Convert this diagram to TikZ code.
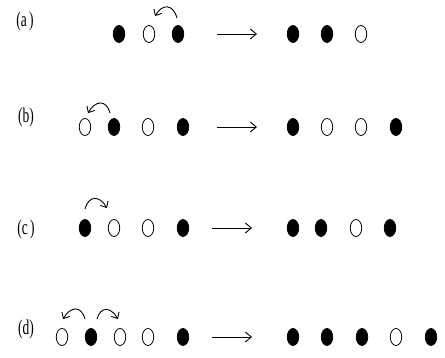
\documentclass[tikz,border=0pt]{standalone}
\usepackage{fontspec}
\setmainfont{Liberation Serif}
\usetikzlibrary{shapes.geometric,arrows.meta}
\begin{document}
\begin{tikzpicture}[x=1pt,y=1pt,
 dot/.style={ellipse,draw,line width=0.8pt,minimum width=11.5pt,minimum height=17pt,inner sep=0pt},
 full/.style={dot,fill=black},
 hole/.style={dot,fill=white},
 lbl/.style={font=\fontsize{15}{15}\selectfont,inner sep=0pt},
 big/.style={-{Straight Barb[length=6pt,width=10pt]},line width=0.9pt},
 hop/.style={-{Straight Barb[length=5pt,width=9pt]},line width=0.9pt,looseness=1.7},
 hopr/.style={hop,out=75,in=120},
 hopl/.style={hop,out=105,in=60}]
\useasboundingbox (0,0) rectangle (445,358);
% row a
\node[lbl] (la) at (25,337) {\scalebox{0.9}[1.4]{(a\,)}};
\node[full] (a1) at (119,324) {};
\node[hole] (a2) at (149,324) {};
\node[full] (a3) at (178,324) {};
\coordinate (as) at (217,324);
\coordinate (ae) at (257,324);
\draw[big] (as) -- (ae);
\node[full] (ar1) at (293,324) {};
\node[full] (ar2) at (327,324) {};
\node[hole] (ar3) at (361,324) {};
\draw[hopl] ([xshift=-1,yshift=7]a3.north) to ([xshift=6,yshift=9]a2.north);
% row b
\node[lbl] (lb) at (26,241) {\scalebox{0.9}[1.4]{(b)}};
\node[hole] (b1) at (85,231) {};
\node[full] (b2) at (114,231) {};
\node[hole] (b3) at (148,231) {};
\node[full] (b4) at (183,231) {};
\coordinate (bs) at (217,231);
\coordinate (be) at (257,231);
\draw[big] (bs) -- (be);
\node[full] (br1) at (293,231) {};
\node[hole] (br2) at (327,231) {};
\node[hole] (br3) at (361,231) {};
\node[full] (br4) at (396,231) {};
\draw[hopl] ([xshift=-4,yshift=5]b2.north) to ([xshift=3,yshift=5]b1.north);
% row c
\node[lbl] (lc) at (26,129) {\scalebox{0.9}[1.4]{(c\,)}};
\node[full] (c1) at (85,130) {};
\node[hole] (c2) at (114,130) {};
\node[hole] (c3) at (148,130) {};
\node[full] (c4) at (183,130) {};
\coordinate (cs) at (212,130);
\coordinate (ce) at (252,130);
\draw[big] (cs) -- (ce);
\node[full] (cr1) at (293,130) {};
\node[full] (cr2) at (321,130) {};
\node[hole] (cr3) at (356,130) {};
\node[full] (cr4) at (390,130) {};
\draw[hopr] ([xshift=0,yshift=10]c1.north) to ([xshift=-7,yshift=11]c2.north);
% row d
\node[lbl] (ld) at (26,29) {\scalebox{0.9}[1.4]{(d)}};
\node[hole] (d1) at (62,21) {};
\node[full] (d2) at (91,21) {};
\node[hole] (d3) at (120,21) {};
\node[hole] (d4) at (148,21) {};
\node[full] (d5) at (183,21) {};
\coordinate (ds) at (212,21);
\coordinate (de) at (252,21);
\draw[big] (ds) -- (de);
\node[full] (dr1) at (293,21) {};
\node[full] (dr2) at (327,21) {};
\node[full] (dr3) at (362,21) {};
\node[hole] (dr4) at (396,21) {};
\node[full] (dr5) at (431,21) {};
\draw[hopl] ([xshift=-6,yshift=9]d2.north) to ([xshift=1,yshift=9]d1.north);
\draw[hopr] ([xshift=6,yshift=9]d2.north) to ([xshift=-2,yshift=9]d3.north);
\end{tikzpicture}
\end{document}
